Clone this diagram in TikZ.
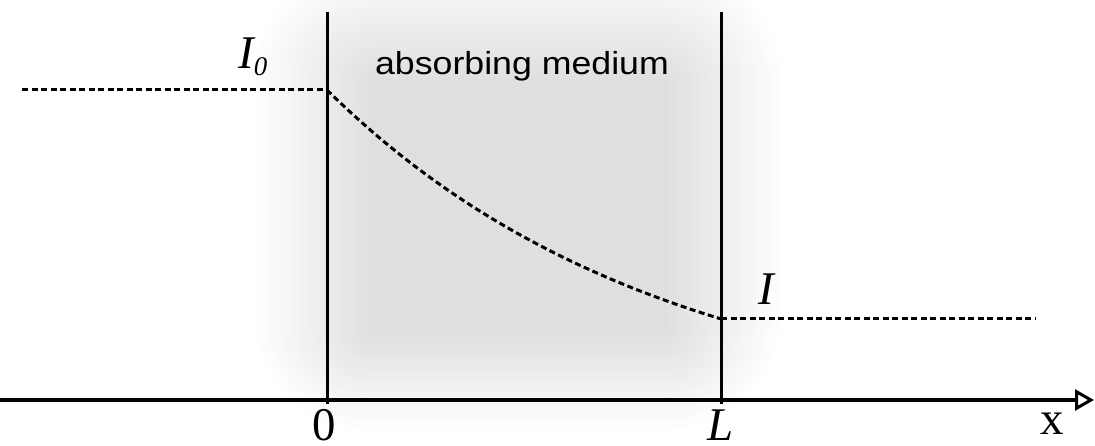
\documentclass[tikz,border=0pt]{standalone}
\usepackage{fontspec}
\setmainfont{Liberation Serif}
\newfontfamily\arialfont{Liberation Sans}
\usetikzlibrary{arrows.meta}
\begin{document}
\begin{tikzpicture}[x=1bp,y=-1bp,
  wall/.style={line width=3bp},
  dashline/.style={line width=3bp, dash pattern=on 6bp off 3.5bp},
  lab/.style={inner sep=0pt, font=\fontsize{47}{47}\selectfont\itshape},
  num/.style={inner sep=0pt, font=\fontsize{47}{47}\selectfont}]
\useasboundingbox (0,0) rectangle (1095,446);
% soft gray medium (blurred box): nested solid layers, outer to inner
\foreach \i in {0,...,39} {
  \pgfmathsetmacro{\shadek}{12.5*(\i+1)/40}
  \pgfmathsetmacro{\dd}{3*(39-\i)}
  \pgfmathsetmacro{\rr}{3*(39-\i)+1}
  \fill[black!\shadek!white, rounded corners=\rr bp] (370-\dd, 80-\dd) rectangle (665+\dd, 333+0.83*\dd);
}
% coordinates
\coordinate (w0t) at (327,12);
\coordinate (w0b) at (327,404);
\coordinate (wLt) at (721,12);
\coordinate (wLb) at (721,404);
\coordinate (ax0) at (0,400);
\coordinate (ax1) at (1094,400);
\coordinate (i0s) at (22,90);
\coordinate (i0e) at (327,90);
\coordinate (ie) at (721,319);
\coordinate (iend) at (1035,319);
% walls and axis
\draw[wall] (w0t) -- (w0b);
\draw[wall] (wLt) -- (wLb);
\draw[line width=3.2bp, -{Triangle[open, length=19bp, width=21bp, line width=3bp]}] (ax0) -- (ax1);
% intensity
\draw[dashline] (i0s) -- (i0e);
\draw[dashline] (i0e) -- plot[domain=0:1, samples=80] ({327+394*\x}, {90+332*(1-exp(-1.17*\x))});
\draw[dashline] (ie) -- (iend);
% labels
\node[lab, anchor=base west] (lI0) at (238,69) {I\raisebox{-7bp}{\fontsize{27}{27}\selectfont 0}};
\node[inner sep=0pt, anchor=base, font=\arialfont\fontsize{32}{32}\selectfont] (lmed) at (522,75) {\scalebox{1.12}[1]{absorbing medium}};
\node[lab, anchor=base] (lI) at (766,305) {I};
\node[num, anchor=base] (l0) at (324,440) {0};
\node[lab, anchor=base] (lL) at (721,440) {L};
\node[num, anchor=base] (lx) at (1052,435) {x};
\end{tikzpicture}
\end{document}
